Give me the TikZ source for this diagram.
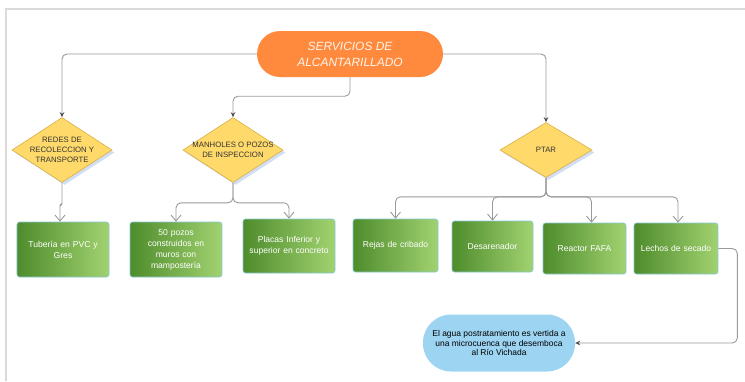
\documentclass[tikz,border=0pt]{standalone}
\usepackage{fontspec}
\setmainfont{Liberation Sans}
\usetikzlibrary{shapes.geometric,arrows.meta,shadows}
\definecolor{orng}{HTML}{FF8A3D}
\definecolor{ylw}{HTML}{FFDA6B}
\definecolor{ylwb}{HTML}{D9AE45}
\definecolor{gdark}{HTML}{4E8C2C}
\definecolor{glight}{HTML}{A2D270}
\definecolor{gbord}{HTML}{86C9D6}
\definecolor{sky}{HTML}{9DD4F2}
\definecolor{lgray}{HTML}{9A9A9A}
\definecolor{frame}{HTML}{DADADA}
\tikzset{
  dia/.style={shape=diamond, draw=ylwb, fill=ylw, line width=0.6bp, inner sep=0pt,
    drop shadow={fill=cyan!50!blue!35, opacity=0.5, shadow xshift=2.5bp, shadow yshift=-2.5bp}},
  diatext/.style={align=center, font=\fontsize{7.8}{10}\selectfont, text=black!80},
  gbox/.style={rectangle, rounded corners=2.5bp, draw=gbord, line width=0.6bp,
    left color=gdark, right color=glight, align=center, text=white, inner sep=2bp,
    font=\fontsize{8.6}{11}\selectfont},
  conn/.style={draw=lgray, line width=0.9bp, rounded corners=5bp},
  topar/.style={conn, -{Stealth[length=5bp,width=4.5bp,color=black!70]}},
  botar/.style={conn, -{Straight Barb[length=6bp,width=10bp]}},
}
\begin{document}
\begin{tikzpicture}[x=1bp,y=-1bp]
\useasboundingbox (0,0) rectangle (745,381);
% frame
\draw[frame, line width=1.3bp] (6,381) -- (6,9) -- (745,9);

% title
\node[rectangle, rounded corners=23bp, fill=orng, minimum width=186bp, minimum height=46bp,
  inner sep=0pt, align=center, text=orange!8, font=\fontsize{12}{16}\selectfont\itshape]
  (title) at (350,54) {SERVICIOS DE\\ALCANTARILLADO};

% diamonds
\node[dia, minimum width=100bp, minimum height=65bp] (d1) at (62,150) {};
\node[diatext] (d1t) at (d1.center) {REDES DE\\RECOLECCION Y\\TRANSPORTE};
\node[dia, minimum width=100bp, minimum height=65bp] (d2) at (233,150) {};
\node[diatext] (d2t) at (d2.center) {MANHOLES O POZOS\\DE INSPECCION};
\node[dia, minimum width=92bp, minimum height=55bp] (d3) at (546,150) {};
\node[diatext] (d3t) at (d3.center) {PTAR};

% green boxes
\node[gbox, minimum width=92bp, minimum height=55bp, text width=86bp] (tub) at (63,249.5) {Tubería en PVC y\\Gres};
\node[gbox, minimum width=92bp, minimum height=55bp, text width=86bp] (pozos) at (176,249.5) {50 pozos\\construidos en\\muros con\\mampostería};
\node[gbox, minimum width=92bp, minimum height=54bp, text width=88bp] (placas) at (289,246) {Placas Inferior y\\superior en concreto};
\node[gbox, minimum width=85bp, minimum height=53bp, text width=80bp] (rejas) at (395.5,245.5) {Rejas de cribado};
\node[gbox, minimum width=81bp, minimum height=51bp, text width=76bp] (desa) at (492.5,246.5) {Desarenador};
\node[gbox, minimum width=83bp, minimum height=51bp, text width=78bp] (reactor) at (584.5,248.5) {Reactor FAFA};
\node[gbox, minimum width=82bp, minimum height=51bp, text width=80bp] (lechos) at (676,248.5) {Lechos de secado};

% final
\node[rectangle, rounded corners=28bp, fill=sky, minimum width=152bp, minimum height=57bp,
  inner sep=0pt, align=center, text=black, font=\fontsize{8.5}{10}\selectfont]
  (agua) at (499,343) {El agua postratamiento es vertida a\\una microcuenca que desemboca\\al Río Vichada};

% connectors top
\draw[topar] (title.west) -| (d1.north);
\draw[topar] (title.east) -| (d3.north);
\draw[topar] (title.south) -- ++(0,19) -| (d2.north);

% connectors bottom
\draw[botar, rounded corners=1.5bp] (d1.south) -- ++(0,22) -| ([xshift=-3bp]tub.north);
\draw[botar] (d2.south) -- ++(0,20) -| (pozos.north);
\draw[botar] (d2.south) -- ++(0,20) -| (placas.north);
\draw[botar] (d3.south) -- ++(0,19) -| (rejas.north);
\draw[botar] (d3.south) -- ++(0,19) -| (desa.north);
\draw[botar] (d3.south) -- ++(0,19) -| ([xshift=7bp]reactor.north);
\draw[botar] (d3.south) -- ++(0,19) -| ([xshift=2bp]lechos.north);

% to final
\draw[conn, -{Stealth[length=5bp,width=4.5bp,color=black!70]}] (lechos.east) -- ++(19,0) |- (agua.east);
\end{tikzpicture}
\end{document}
